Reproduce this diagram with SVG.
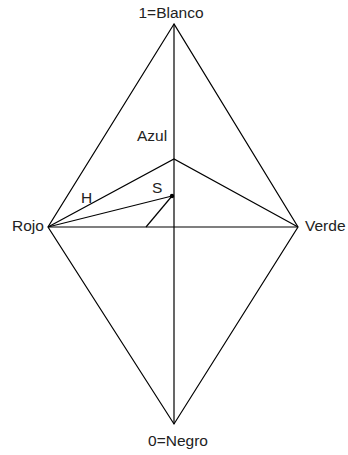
<svg xmlns="http://www.w3.org/2000/svg" width="348" height="455" viewBox="0 0 348 455">
<style>
.l{stroke:#000;stroke-width:1.2;fill:none}
text{font-family:"Liberation Sans",Arial,sans-serif;font-size:15.5px;fill:#222}
</style>
<rect width="348" height="455" fill="#fff"/>
<g id="connectors">
<path class="l" d="M174,24 L48,227 L174,424 L298,227 Z"/>
<line class="l" x1="174" y1="24" x2="174" y2="424"/>
<line class="l" x1="48" y1="227" x2="298" y2="227"/>
<polyline class="l" points="48,227 174,159 298,227"/>
<line class="l" x1="48" y1="227" x2="172" y2="196"/>
<line class="l" x1="146" y1="227" x2="172" y2="196"/>
<circle cx="172" cy="196" r="2.2" fill="#000"/>
</g>
<g id="blanco"><text x="171" y="18" text-anchor="middle">1=Blanco</text></g>
<g id="negro"><text x="178" y="446" text-anchor="middle">0=Negro</text></g>
<g id="rojo"><text x="12" y="231">Rojo</text></g>
<g id="verde"><text x="305" y="231">Verde</text></g>
<g id="azul"><text x="137" y="141">Azul</text></g>
<g id="h"><text x="81" y="203">H</text></g>
<g id="s"><text x="152" y="193">S</text></g>
</svg>
